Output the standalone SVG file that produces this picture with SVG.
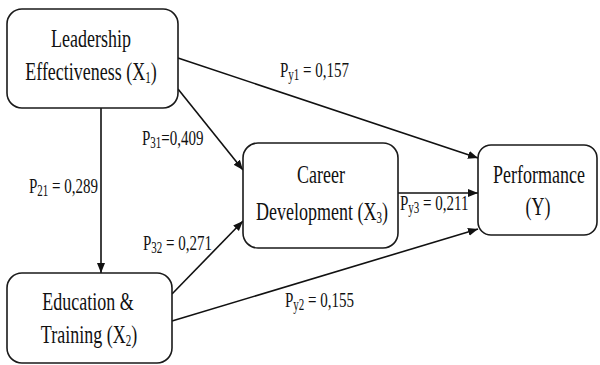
<svg xmlns="http://www.w3.org/2000/svg" width="600" height="365" viewBox="0 0 600 365">
<style>
.box{fill:#fff;stroke:#1a1a1a;stroke-width:1.6}
.t{font-family:'Liberation Serif','Times New Roman',serif;font-size:18px;fill:#111;text-anchor:middle}
.l{font-family:'Liberation Serif','Times New Roman',serif;font-size:15px;fill:#111;text-anchor:start}
.sub{font-size:11px}
.c{stroke:#111;stroke-width:1.6;fill:none}
</style>
<defs>
<marker id="ah" viewBox="0 0 10 10" refX="10" refY="5" markerWidth="10" markerHeight="10" markerUnits="userSpaceOnUse" orient="auto">
<path d="M0,1 L10,5 L0,9 Z" fill="#111"/>
</marker>
</defs>
<g id="connectors">
<line class="c" x1="178" y1="58" x2="478" y2="158" marker-end="url(#ah)"/>
<line class="c" x1="178" y1="89" x2="243" y2="170" marker-end="url(#ah)"/>
<line class="c" x1="101" y1="108" x2="101" y2="273" marker-end="url(#ah)"/>
<line class="c" x1="172" y1="294" x2="243" y2="221" marker-end="url(#ah)"/>
<line class="c" x1="172" y1="321" x2="478" y2="229" marker-end="url(#ah)"/>
<line class="c" x1="398" y1="193" x2="478" y2="193" marker-end="url(#ah)"/>
</g>
<g id="labels">
<text class="l" transform="translate(280,77) scale(1,1.45)">P<tspan class="sub" dy="2">y1</tspan><tspan dy="-2"> = 0,157</tspan></text>
<text class="l" transform="translate(142,145) scale(1,1.45)">P<tspan class="sub" dy="2">31</tspan><tspan dy="-2">=0,409</tspan></text>
<text class="l" transform="translate(29,193) scale(1,1.45)">P<tspan class="sub" dy="2">21</tspan><tspan dy="-2"> = 0,289</tspan></text>
<text class="l" transform="translate(143,250) scale(1,1.45)">P<tspan class="sub" dy="2">32</tspan><tspan dy="-2"> = 0,271</tspan></text>
<text class="l" transform="translate(400,210) scale(1,1.45)">P<tspan class="sub" dy="2">y3</tspan><tspan dy="-2"> = 0,211</tspan></text>
<text class="l" transform="translate(285,307) scale(1,1.45)">P<tspan class="sub" dy="2">y2</tspan><tspan dy="-2"> = 0,155</tspan></text>
</g>
<g id="x1">
<rect class="box" x="7" y="9" width="171" height="99" rx="15"/>
<text class="t" transform="translate(91,47) scale(1,1.45)">Leadership</text>
<text class="t" transform="translate(91,80) scale(1,1.45)">Effectiveness (X<tspan class="sub" dy="2">1</tspan><tspan dy="-2">)</tspan></text>
</g>
<g id="x2">
<rect class="box" x="7" y="273" width="165" height="90" rx="15"/>
<text class="t" transform="translate(88,310) scale(1,1.45)">Education &amp;</text>
<text class="t" transform="translate(89,343) scale(1,1.45)">Training (X<tspan class="sub" dy="2">2</tspan><tspan dy="-2">)</tspan></text>
</g>
<g id="x3">
<rect class="box" x="243" y="143" width="155" height="105" rx="15"/>
<text class="t" transform="translate(321,183) scale(1,1.45)">Career</text>
<text class="t" transform="translate(322,220) scale(1,1.45)">Development (X<tspan class="sub" dy="2">3</tspan><tspan dy="-2">)</tspan></text>
</g>
<g id="y">
<rect class="box" x="478" y="145" width="119" height="90" rx="13"/>
<text class="t" transform="translate(539,183) scale(1,1.45)">Performance</text>
<text class="t" transform="translate(538,215) scale(1,1.45)">(Y)</text>
</g>
</svg>
